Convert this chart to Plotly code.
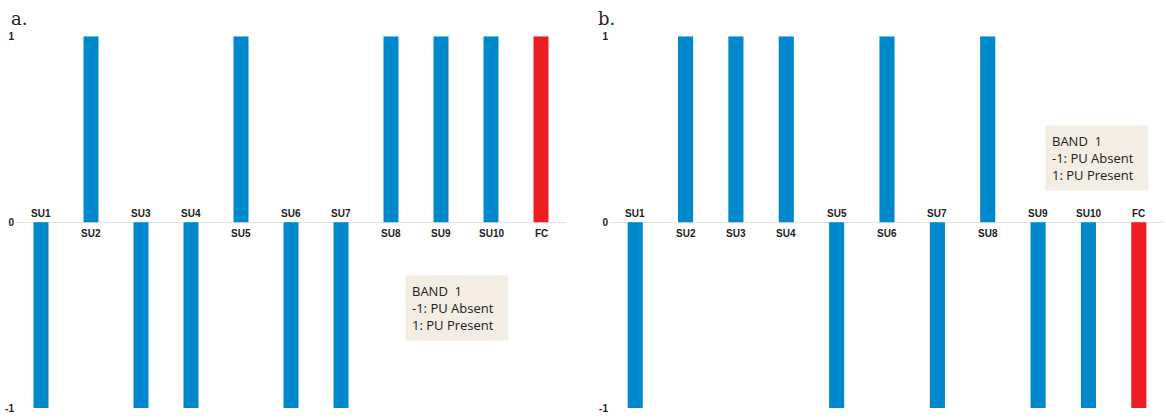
import plotly.graph_objects as go

categories = ["SU1", "SU2", "SU3", "SU4", "SU5", "SU6", "SU7", "SU8", "SU9", "SU10", "FC"]
values_a = [-1, 1, -1, -1, 1, -1, -1, 1, 1, 1, 1]
values_b = [-1, 1, 1, 1, -1, 1, -1, 1, -1, -1, -1]
y_ticks = [-1, 0, 1]
legend_lines = ["BAND  1", "-1: PU Absent", "1: PU Present"]

BLUE = "#0088CC"
RED = "#EE1D24"
W, H = 1166, 418

bar_colors = [RED if c == "FC" else BLUE for c in categories]

fig = go.Figure()
fig.add_trace(go.Bar(x=categories, y=values_a, marker=dict(color=bar_colors, line=dict(width=0)),
                     width=0.3, xaxis="x", yaxis="y", showlegend=False))
fig.add_trace(go.Bar(x=categories, y=values_b, marker=dict(color=bar_colors, line=dict(width=0)),
                     width=0.3, xaxis="x2", yaxis="y2", showlegend=False))

ydom = [1 - 414 / H, 1 - 32 / H]
xdom1 = [16 / W, 566 / W]
xdom2 = [610 / W, 1164 / W]

axis_y = dict(range=[-1, 1], tickvals=y_ticks, ticktext=["<b>%d</b>" % v for v in y_ticks],
              showgrid=True, gridcolor="#dfe4e8", gridwidth=1, zeroline=True,
              zerolinecolor="#dfe4e8", zerolinewidth=1, showline=False, ticks="",
              tickfont=dict(family="Liberation Sans", size=10, color="#222"), ticklabelstandoff=1,
              ticklabeloverflow="allow",
              domain=ydom, fixedrange=True)
axis_x = dict(showticklabels=False, showgrid=False, zeroline=False, showline=False, ticks="",
              range=[-0.5, 10.5], fixedrange=True)

fig.update_layout(
    width=W, height=H,
    margin=dict(l=0, r=0, t=0, b=0),
    paper_bgcolor="white", plot_bgcolor="white",
    xaxis=dict(axis_x, domain=xdom1),
    xaxis2=dict(axis_x, domain=xdom2, anchor="y2"),
    yaxis=dict(axis_y, anchor="x"),
    yaxis2=dict(axis_y, anchor="x2"),
    bargap=0.7,
)

ann = []
for xa, ya, vals in [("x", "y", values_a), ("x2", "y2", values_b)]:
    for c, v in zip(categories, vals):
        ann.append(dict(x=c, y=0, xref=xa, yref=ya, text="<b>%s</b>" % c, showarrow=False,
                        yshift=-11 if v > 0 else 9,
                        font=dict(family="Liberation Sans", size=10, color="#222")))

ann.append(dict(x=9 / W, y=1 - 14 / H, xref="paper", yref="paper", text="a.", showarrow=False,
                xanchor="left", yanchor="middle",
                font=dict(family="DejaVu Serif", size=18, color="#222")))
ann.append(dict(x=596 / W, y=1 - 14 / H, xref="paper", yref="paper", text="b.", showarrow=False,
                xanchor="left", yanchor="middle",
                font=dict(family="DejaVu Serif", size=18, color="#222")))

legend_text = "<br>".join(legend_lines)
for lx, ly in [(405, 277), (1045, 123)]:
    ann.append(dict(x=lx / W, y=1 - ly / H, xref="paper", yref="paper", text=legend_text,
                    showarrow=False, xanchor="left", yanchor="top", align="left",
                    bgcolor="#F3EDE3", borderpad=6, width=90,
                    font=dict(family="Open Sans", size=13, color="#222")))

fig.update_layout(annotations=ann)
fig.write_html("out.html", config={"displayModeBar": False},
               post_script="document.body.style.margin='0';document.body.style.padding='0';")
